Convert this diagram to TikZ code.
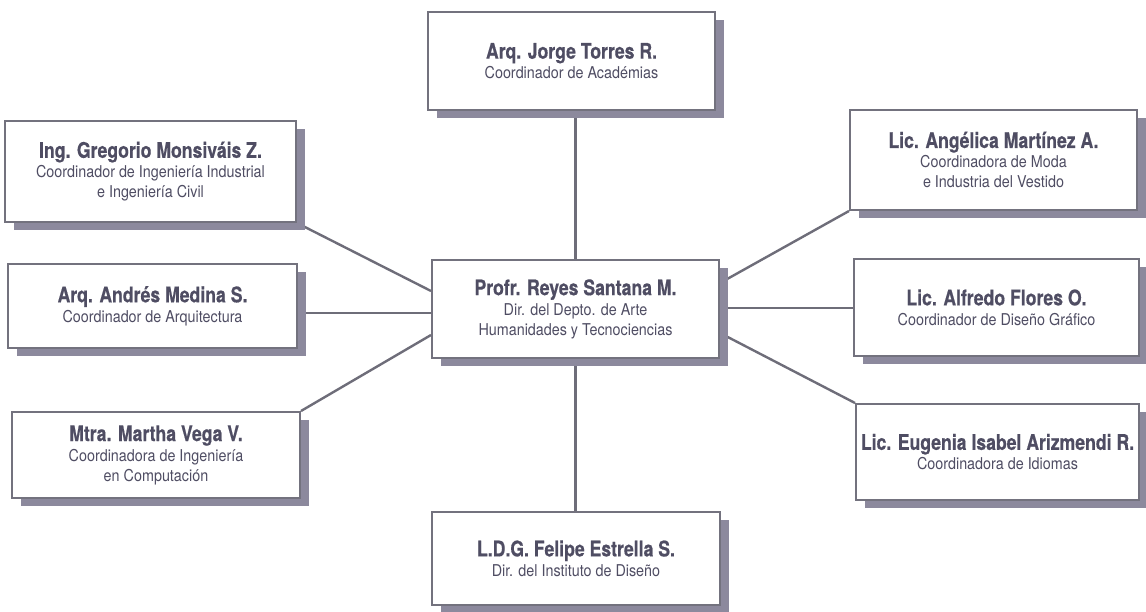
\documentclass[tikz,border=0pt]{standalone}
\usepackage{fontspec}
\setmainfont{TeX Gyre Heros}[FakeStretch=0.88, BoldFeatures={FakeStretch=0.82, FakeBold=0.5}]
\usetikzlibrary{shadows,backgrounds}
\definecolor{txtc}{HTML}{4F4D63}
\definecolor{bordc}{HTML}{73727E}
\definecolor{shadc}{HTML}{8C899D}
\definecolor{linec}{HTML}{6E6D79}
\newcommand\orgtitle[1]{{\fontsize{21.5}{22}\selectfont\bfseries #1}}
\begin{document}
\begin{tikzpicture}[x=1pt,y=-1pt,
  orgbox/.style={draw=bordc, line width=2pt, fill=white, text=txtc,
    align=center, inner sep=0pt, font=\fontsize{16.3}{20}\selectfont,
    drop shadow={shadow xshift=9pt, shadow yshift=-8pt, fill=shadc, opacity=1}},
  conn/.style={draw=linec, line width=2.4pt}]
\useasboundingbox (0,0) rectangle (1146,612);

\node[orgbox, minimum width=287pt, minimum height=98pt] (jorge) at (571.5,61)
  {\orgtitle{Arq. Jorge Torres R.}\\ Coordinador de Académias};
\node[orgbox, minimum width=291pt, minimum height=101pt] (greg) at (150.5,171.5)
  {\orgtitle{Ing. Gregorio Monsiváis Z.}\\ Coordinador de Ingeniería Industrial\\ e Ingeniería Civil};
\node[orgbox, minimum width=289pt, minimum height=84pt] (andres) at (152.5,306)
  {\orgtitle{Arq. Andrés Medina S.}\\ Coordinador de Arquitectura};
\node[orgbox, minimum width=287pt, minimum height=98pt] (center) at (575.5,309)
  {\orgtitle{Profr. Reyes Santana M.}\\ Dir. del Depto. de Arte\\ Humanidades y Tecnociencias};
\node[orgbox, minimum width=288pt, minimum height=86pt] (martha) at (156,455)
  {\orgtitle{Mtra. Martha Vega V.}\\ Coordinadora de Ingeniería\\ en Computación};
\node[orgbox, minimum width=288pt, minimum height=93pt] (felipe) at (576,558.5)
  {\orgtitle{L.D.G. Felipe Estrella S.}\\ Dir. del Instituto de Diseño};
\node[orgbox, minimum width=287pt, minimum height=100pt] (angelica) at (993.5,160)
  {\orgtitle{Lic. Angélica Martínez A.}\\ Coordinadora de Moda\\ e Industria del Vestido};
\node[orgbox, minimum width=285pt, minimum height=97pt] (alfredo) at (996.5,307.5)
  {\orgtitle{Lic. Alfredo Flores O.}\\ Coordinador de Diseño Gráfico};
\node[orgbox, minimum width=283pt, minimum height=96pt] (eugenia) at (997.5,452)
  {\orgtitle{Lic. Eugenia Isabel Arizmendi R.}\\ Coordinadora de Idiomas};

\begin{scope}[on background layer]
\draw[conn] (center.north) -- (center.north |- jorge.south);
\draw[conn] (center.south) -- (center.south |- felipe.north);
\draw[conn] (greg.south east) -- ([yshift=18pt]center.west);
\draw[conn] ([yshift=-4pt]center.west) -- ([yshift=-4pt]center.west -| andres.east);
\draw[conn] (martha.north east) -- ([yshift=-26pt]center.west);
\draw[conn] ([yshift=26pt]center.east) -- (angelica.south west);
\draw[conn] ([yshift=1pt]center.east) -- ([yshift=1pt]center.east -| alfredo.west);
\draw[conn] ([yshift=-24pt]center.east) -- (eugenia.north west);
\end{scope}
\end{tikzpicture}
\end{document}
